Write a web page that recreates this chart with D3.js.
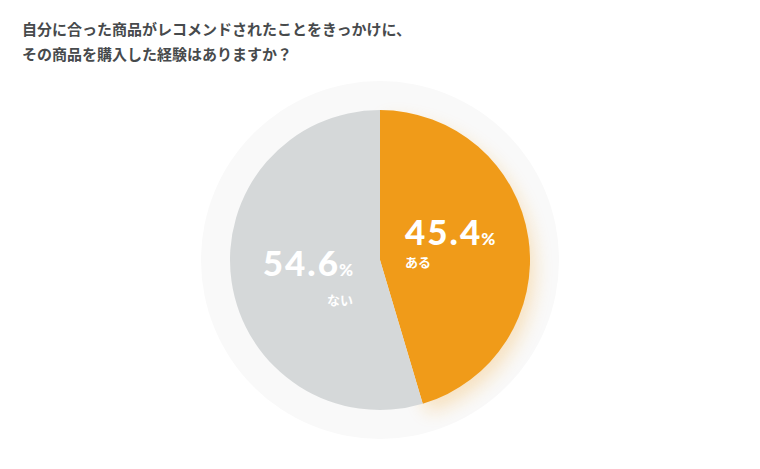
<!DOCTYPE html>
<html>
<head>
<meta charset="utf-8">
<script src="https://cdn.jsdelivr.net/npm/d3@7"></script>
<style>
  body { margin: 0; background: #fff; }
  svg { display: block; }
</style>
</head>
<body>
<svg width="760" height="469"></svg>
<script>
// data
const labels = ['ある', 'ない'];
const values = [45.4, 54.6];
const colors = ['#F09B19', '#D5D8D9'];
const titleLines = [
  '自分に合った商品がレコメンドされたことをきっかけに、',
  'その商品を購入した経験はありますか？'
];

const svg = d3.select('svg');
const cx = 380, cy = 260;
const radius = 150;

svg.selectAll('text.title')
  .data(titleLines)
  .enter()
  .append('text')
  .attr('class', 'title')
  .attr('x', 22)
  .attr('y', (d, i) => 35 + i * 25)
  .attr('font-family', '"Noto Sans CJK JP", sans-serif')
  .attr('font-weight', 700)
  .attr('font-size', 15)
  .attr('fill', '#474a4c')
  .text(d => d);

const defs = svg.append('defs');
defs.append('filter')
  .attr('id', 'glow')
  .attr('x', '-50%').attr('y', '-50%')
  .attr('width', '200%').attr('height', '200%')
  .append('feGaussianBlur')
  .attr('stdDeviation', 9);

const g = svg.append('g').attr('transform', `translate(${cx},${cy})`);

// faint outer ring
g.append('circle')
  .attr('r', 179)
  .attr('fill', '#f9f9f9');

const pie = d3.pie().sort(null).value(d => d);
const arcs = pie(values);
const arc = d3.arc().innerRadius(0).outerRadius(radius);

// soft orange glow behind the first slice
g.append('path')
  .attr('d', arc(arcs[0]))
  .attr('transform', 'translate(5,9)')
  .attr('fill', colors[0])
  .attr('opacity', 0.25)
  .attr('filter', 'url(#glow)');

g.selectAll('path.slice')
  .data(arcs)
  .enter()
  .append('path')
  .attr('class', 'slice')
  .attr('d', arc)
  .attr('fill', (d, i) => colors[i]);

// labels
const labelPos = [
  { x: 25, y: -15, anchor: 'start' },
  { x: -27, y: 16, anchor: 'end' }
];

arcs.forEach((a, i) => {
  const p = labelPos[i];
  const t = g.append('text')
    .attr('x', p.x)
    .attr('y', p.y)
    .attr('text-anchor', p.anchor)
    .attr('fill', '#fff')
    .attr('font-family', 'Lato, sans-serif')
    .attr('font-weight', 900);
  t.append('tspan')
    .attr('font-size', 35)
    .attr('letter-spacing', 2)
    .text(values[i].toFixed(1));
  t.append('tspan')
    .attr('font-size', 17)
    .attr('dx', -1)
    .text('%');

  g.append('text')
    .attr('x', p.x)
    .attr('y', p.y + 22 + (i === 1 ? 7 : 0))
    .attr('text-anchor', p.anchor)
    .attr('fill', '#fff')
    .attr('font-family', '"Noto Sans CJK JP", sans-serif')
    .attr('font-weight', 700)
    .attr('font-size', 13)
    .text(labels[i]);
});
</script>
</body>
</html>
